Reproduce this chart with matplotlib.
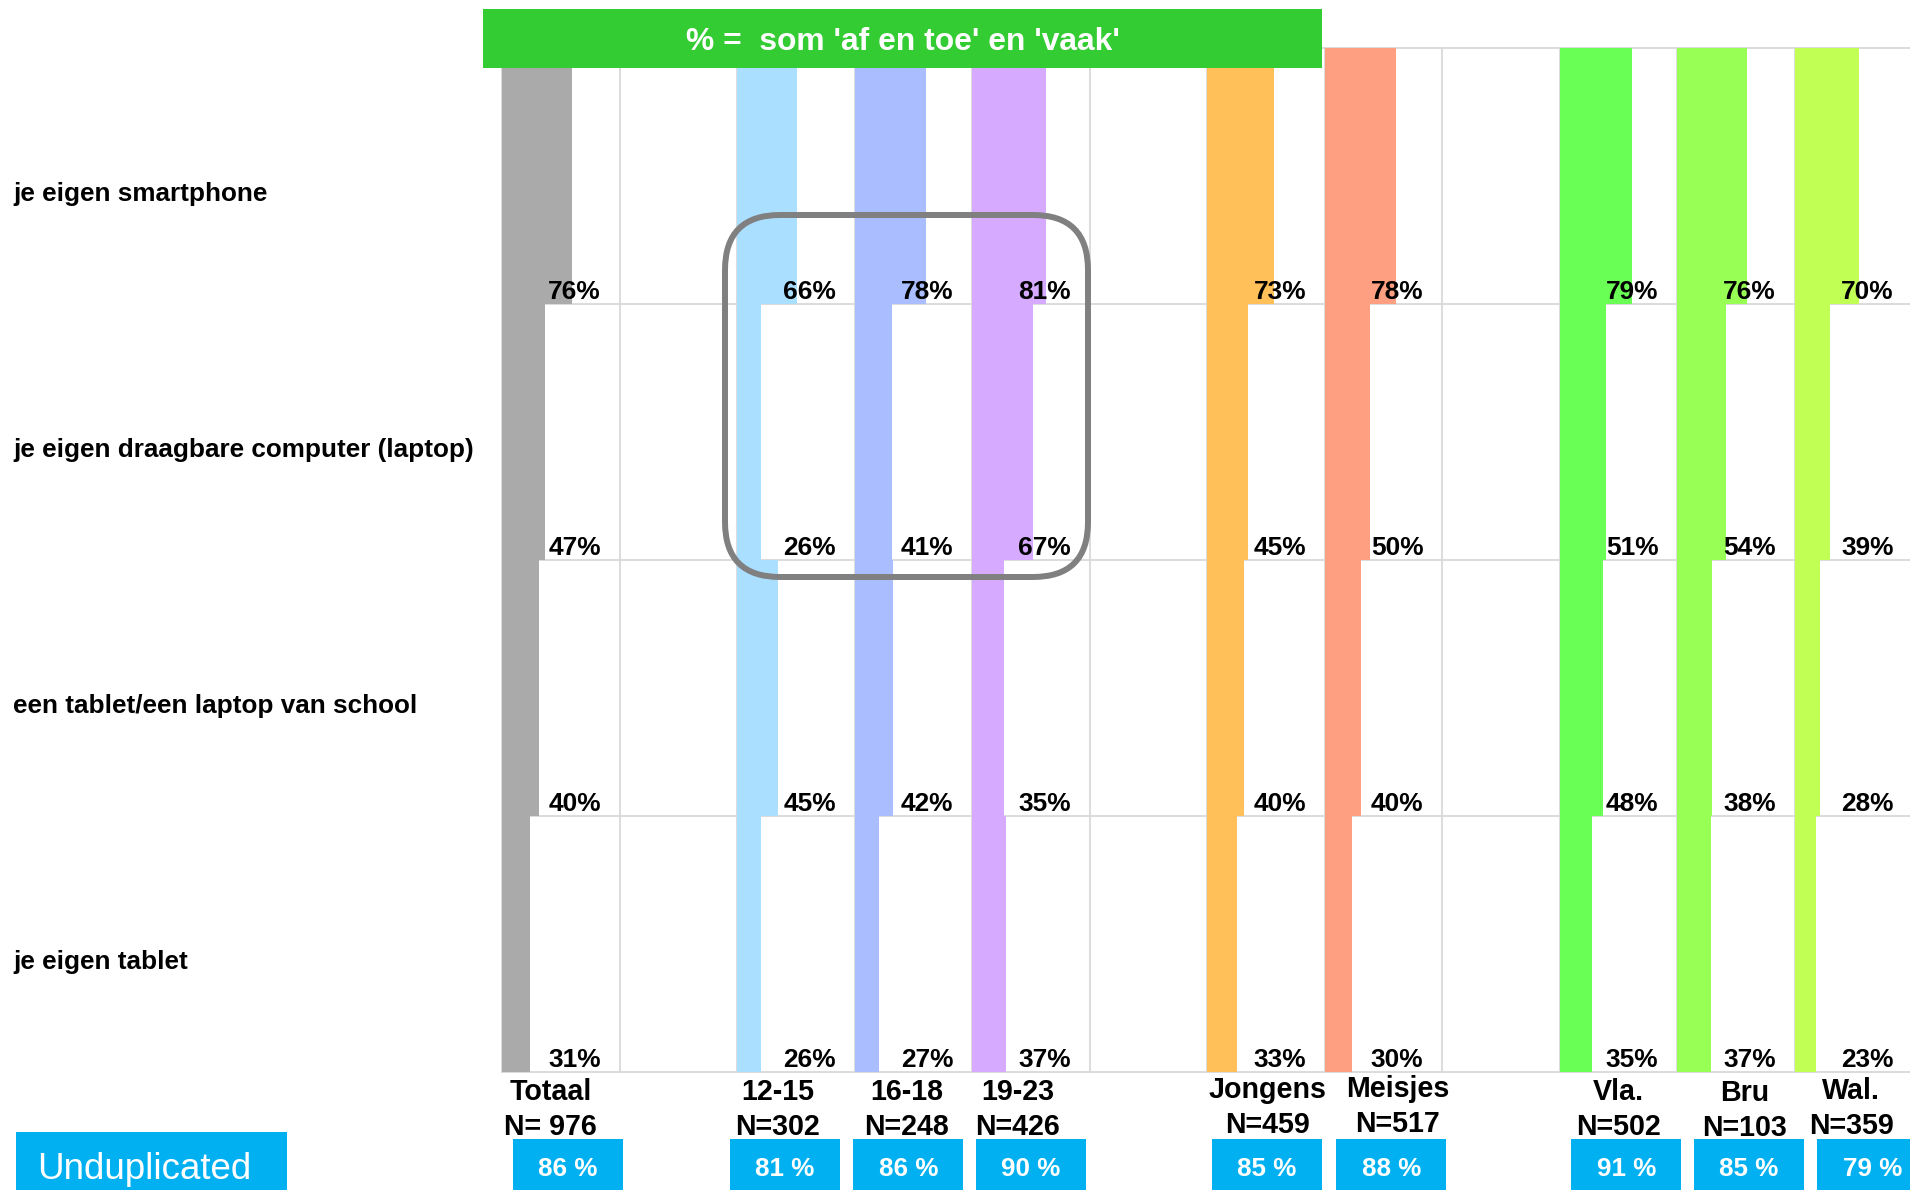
import matplotlib
matplotlib.use("Agg")
import matplotlib.pyplot as plt
from matplotlib.patches import Rectangle, FancyBboxPatch
import matplotlib.transforms as mtransforms

plt.rcParams['font.family'] = ['Liberation Sans', 'DejaVu Sans']

# ---------------- data ----------------
items = ["je eigen smartphone",
         "je eigen draagbare computer (laptop)",
         "een tablet/een laptop van school",
         "je eigen tablet"]
groups = ["Totaal", "12-15", "16-18", "19-23", "Jongens", "Meisjes", "Vla.", "Bru", "Wal."]
group_n = ["N= 976", "N=302", "N=248", "N=426", "N=459", "N=517", "N=502", "N=103", "N=359"]
smartphone = [76, 66, 78, 81, 73, 78, 79, 76, 70]
laptop = [47, 26, 41, 67, 45, 50, 51, 54, 39]
school = [40, 45, 42, 35, 40, 40, 48, 38, 28]
tablet = [31, 26, 27, 37, 33, 30, 35, 37, 23]
unduplicated = [86, 81, 86, 90, 85, 88, 91, 85, 79]
header_text = "% =  som 'af en toe' en 'vaak'"
undup_label = "Unduplicated"

# ---------------- styling / layout ----------------
colors = ["#AAAAAA", "#AADFFF", "#AABEFF", "#D5AAFF", "#FFBF59",
          "#FF9F82", "#69FF55", "#98FF55", "#C2FF55"]
slots = [0, 2, 3, 4, 6, 7, 9, 10, 11]          # column slot of each group (gaps between blocks)
label_dx_px = [-10, -18, -7, -13, 2, 14, 0, 9, -2]
label_dy_px = [0, 0, 0, 0, -2, -3, 0, 1, -1]
box_dx_px = [7, -11, -5, 0, 1, 8, 8, 13, 19]

W, H, DPI = 1910, 1190, 100
AX_L, AX_T = 502, 48
ROW_H = 256.0
COL_W_PX = 117.5
UNIT_PX = 0.915                      # pixels per 1 %
COL_U = COL_W_PX / UNIT_PX           # column width in % units
N_SLOTS = 12
rows = [smartphone, laptop, school, tablet]

fig = plt.figure(figsize=(W / DPI, H / DPI), dpi=DPI)
ax = fig.add_axes([AX_L / W, 1 - (AX_T + 4 * ROW_H) / H,
                   N_SLOTS * COL_W_PX / W, 4 * ROW_H / H])
ax.set_xlim(0, N_SLOTS * COL_U)
ax.set_ylim(4, 0)
ax.axis("off")


def xd(px):
    return (px - AX_L) / UNIT_PX


def yd(py):
    return (py - AX_T) / ROW_H


def fy(py):
    return 1 - py / H


grid_c = "#D9D9D9"
# grid
for s in range(N_SLOTS + 1):
    ax.plot([s * COL_U, s * COL_U], [0, 4], color=grid_c, lw=1.3, zorder=1, clip_on=False)
for r in range(5):
    ax.plot([0, N_SLOTS * COL_U], [r, r], color=grid_c, lw=1.3, zorder=1, clip_on=False)

# bars & value labels
for r, vals in enumerate(rows):
    for g, v in enumerate(vals):
        x0 = slots[g] * COL_U
        ax.barh(r + 0.5, v, left=x0, height=1.0, color=colors[g], zorder=2,
                edgecolor="none")
        ax.text(x0 + 108.2, r + 1 - 5 / ROW_H, f"{v}%", ha="right", va="baseline",
                fontsize=18.9, fontweight="bold", color="black", zorder=5)

# row labels
blend = mtransforms.blended_transform_factory(fig.transFigure, ax.transData)
for r, lab in enumerate(items):
    ax.text(13 / W, r + 153 / ROW_H, lab, transform=blend, ha="left", va="baseline",
            fontsize=18.8, fontweight="bold", color="black")

# header
ax.add_patch(Rectangle((xd(483), yd(9)), xd(1322) - xd(483), yd(68) - yd(9),
                       facecolor="#33CC33", edgecolor="none", zorder=6, clip_on=False))
ax.text((xd(483) + xd(1322)) / 2, (yd(9) + yd(68)) / 2 + 3.5 / ROW_H, header_text,
        ha="center", va="center", color="white", fontsize=22.9, fontweight="bold",
        zorder=7)

# highlight rounded box
rad = 55 / UNIT_PX
ax.add_patch(FancyBboxPatch((xd(725), yd(215)), xd(1088) - xd(725), yd(577) - yd(215),
                            boxstyle=f"round,pad=0,rounding_size={rad}",
                            mutation_aspect=UNIT_PX / ROW_H,
                            facecolor="none", edgecolor="#808080", lw=4.3,
                            zorder=8, clip_on=False))

# group labels and unduplicated boxes
blend2 = mtransforms.blended_transform_factory(ax.transData, fig.transFigure)
box_w = 110 / UNIT_PX
for g in range(len(groups)):
    cx = slots[g] * COL_U + COL_U / 2
    lx = cx + label_dx_px[g] / UNIT_PX
    ax.text(lx, fy(1100 + label_dy_px[g]), groups[g], transform=blend2, ha="center",
            va="baseline", fontsize=20.6, fontweight="bold", color="black")
    ax.text(lx, fy(1135 + label_dy_px[g]), group_n[g], transform=blend2, ha="center",
            va="baseline", fontsize=20.6, fontweight="bold", color="black")
    bx = cx + box_dx_px[g] / UNIT_PX
    ax.add_patch(Rectangle((bx - box_w / 2, fy(1200)), box_w, fy(1139) - fy(1200),
                           transform=blend2, facecolor="#00B0F0", edgecolor="none",
                           clip_on=False, zorder=3))
    ax.text(bx, fy(1176), f"{unduplicated[g]} %", transform=blend2, ha="center",
            va="baseline", fontsize=18.7, fontweight="bold", color="white", zorder=4)

fig.patches.append(Rectangle((16 / W, fy(1200)), (287 - 16) / W, fy(1132) - fy(1200),
                             transform=fig.transFigure, facecolor="#00B0F0",
                             edgecolor="none"))
fig.text(37 / W, fy(1179), undup_label, ha="left", va="baseline", fontsize=26.5,
         color="white")

fig.savefig("out.png", dpi=DPI)
